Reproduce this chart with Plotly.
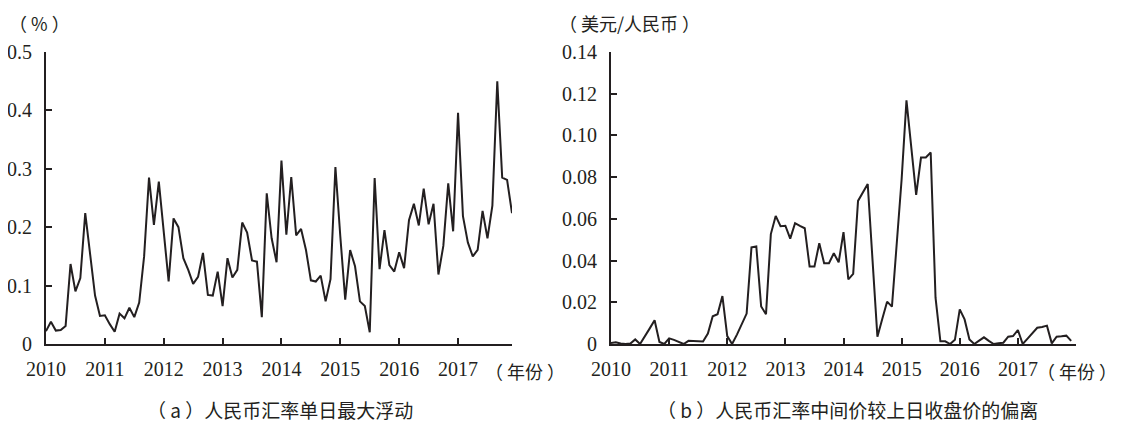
import plotly.graph_objects as go

# ---------------- data ----------------
years = [2010, 2011, 2012, 2013, 2014, 2015, 2016, 2017]
year_labels = ["2010", "2011", "2012", "2013", "2014", "2015", "2016", "2017"]

# (a) max single-day fluctuation of RMB exchange rate (%), monthly Jan-2010 .. Dec-2017
max_float = [
    0.022, 0.038, 0.023, 0.024, 0.031, 0.137, 0.090, 0.113, 0.224, 0.155, 0.083, 0.048,
    0.049, 0.034, 0.021, 0.052, 0.044, 0.062, 0.046, 0.071, 0.150, 0.285, 0.204, 0.278,
    0.195, 0.107, 0.215, 0.200, 0.147, 0.127, 0.103, 0.115, 0.156, 0.084, 0.083, 0.124,
    0.065, 0.147, 0.114, 0.127, 0.208, 0.191, 0.143, 0.141, 0.046, 0.258, 0.181, 0.140,
    0.314, 0.187, 0.286, 0.186, 0.197, 0.161, 0.109, 0.107, 0.117, 0.073, 0.111, 0.303,
    0.184, 0.076, 0.161, 0.133, 0.073, 0.065, 0.020, 0.284, 0.128, 0.195, 0.135, 0.124,
    0.157, 0.130, 0.212, 0.240, 0.203, 0.266, 0.205, 0.240, 0.119, 0.168, 0.275, 0.193,
    0.396, 0.219, 0.174, 0.150, 0.161, 0.228, 0.181, 0.237, 0.450, 0.285, 0.281, 0.224,
]

# (b) deviation of central parity from previous close (USD/RMB), monthly Jan-2010 .. Dec-2017
deviation = [
    0.0005, 0.0008, 0.0002, 0.0000, 0.0002, 0.0022, 0.0000, 0.0035, 0.0075, 0.0114, 0.0010, 0.0000,
    0.0027, 0.0020, 0.0008, 0.0000, 0.0015, 0.0014, 0.0013, 0.0012, 0.0050, 0.0133, 0.0143, 0.0230,
    0.0038, 0.0000, 0.0045, 0.0098, 0.0146, 0.0463, 0.0468, 0.0180, 0.0143, 0.0527, 0.0614, 0.0565,
    0.0567, 0.0505, 0.0579, 0.0566, 0.0555, 0.0371, 0.0371, 0.0483, 0.0387, 0.0387, 0.0435, 0.0392,
    0.0536, 0.0310, 0.0336, 0.0686, 0.0725, 0.0767, 0.0400, 0.0035, 0.0120, 0.0203, 0.0179, 0.0500,
    0.0790, 0.1168, 0.0940, 0.0715, 0.0894, 0.0894, 0.0918, 0.0222, 0.0013, 0.0013, 0.0000, 0.0020,
    0.0166, 0.0118, 0.0022, 0.0000, 0.0016, 0.0032, 0.0015, 0.0000, 0.0004, 0.0006, 0.0035, 0.0038,
    0.0067, 0.0000, 0.0026, 0.0052, 0.0078, 0.0082, 0.0088, 0.0003, 0.0035, 0.0037, 0.0040, 0.0015,
]

left_yticks = [0, 0.1, 0.2, 0.3, 0.4, 0.5]
left_ytext = ["0", "0.1", "0.2", "0.3", "0.4", "0.5"]
right_yticks = [0, 0.02, 0.04, 0.06, 0.08, 0.10, 0.12, 0.14]
right_ytext = ["0", "0.02", "0.04", "0.06", "0.08", "0.10", "0.12", "0.14"]

left_unit = "（ % ）"
right_unit = "（ 美元/人民币 ）"
year_unit = "（ 年份 ）"
caption_a = "（ a ）人民币汇率单日最大浮动"
caption_b = "（ b ）人民币汇率中间价较上日收盘价的偏离"

# monthly time positions (fractional years)
months = [y + m / 12 for y in years for m in range(12)]

# ---------------- figure ----------------
OFF = 8                      # page body margin of the browser
W, H = 1123 - OFF, 426 - OFF
INK = "#231f20"
FONT = "Liberation Serif, Noto Sans CJK SC, serif"

def px(x):
    return (x - OFF) / W

def py(y):
    return (H - (y - OFF)) / H

fig = go.Figure()
fig.add_trace(go.Scatter(x=months, y=max_float, mode="lines",
                         line=dict(color=INK, width=2), xaxis="x", yaxis="y",
                         showlegend=False, hoverinfo="skip"))
fig.add_trace(go.Scatter(x=months, y=deviation, mode="lines",
                         line=dict(color=INK, width=2), xaxis="x2", yaxis="y2",
                         showlegend=False, hoverinfo="skip"))

tick_font = dict(family=FONT, size=20, color=INK)
common_x = dict(showgrid=False, zeroline=False, showline=True, linecolor=INK, linewidth=2,
                ticks="inside", ticklen=6, tickwidth=1.8, tickcolor=INK, automargin=False,
                tickfont=tick_font, ticklabelstandoff=6)
common_y = dict(showgrid=False, zeroline=False, showline=True, linecolor=INK, linewidth=2,
                ticks="inside", ticklen=6, tickwidth=1.8, tickcolor=INK, automargin=False,
                tickfont=tick_font, ticklabelstandoff=8)

ydom = [py(344), py(52)]

fig.update_layout(
    width=W, height=H,
    margin=dict(l=0, r=0, t=0, b=0, autoexpand=False),
    paper_bgcolor="white", plot_bgcolor="white",
    xaxis=dict(domain=[px(46), px(512)], range=[2010, 2010 + 95 / 12],
               tickvals=years, ticktext=year_labels, anchor="y", **common_x),
    yaxis=dict(domain=ydom, range=[0, 0.5], tickvals=left_yticks, ticktext=left_ytext,
               anchor="x", **common_y),
    xaxis2=dict(domain=[px(611), px(1076)], range=[2010, 2018],
                tickvals=years + [2018], ticktext=year_labels + [""], anchor="y2", **common_x),
    yaxis2=dict(domain=ydom, range=[0, 0.14], tickvals=right_yticks, ticktext=right_ytext,
                anchor="x2", **common_y),
)

ann_font = dict(family="Noto Sans CJK SC, Liberation Serif, sans-serif", size=18, color=INK)
cap_font = dict(family="Noto Sans CJK SC, Liberation Serif, sans-serif", size=19, color=INK)
annotations = [
    dict(text=left_unit, x=px(8), y=py(OFF + 1), xanchor="left", yanchor="top", font=ann_font),
    dict(text=right_unit, x=px(558), y=py(OFF + 1), xanchor="left", yanchor="top", font=ann_font),
    dict(text=year_unit, x=px(484), y=py(371), xanchor="left", yanchor="middle", font=ann_font),
    dict(text=year_unit, x=px(1036), y=py(371), xanchor="left", yanchor="middle", font=ann_font),
    dict(text=caption_a, x=px(280), y=py(409), xanchor="center", yanchor="middle", font=cap_font),
    dict(text=caption_b, x=px(847), y=py(409), xanchor="center", yanchor="middle", font=cap_font),
]
for a in annotations:
    a.update(xref="paper", yref="paper", showarrow=False, borderpad=0)
fig.update_layout(annotations=annotations)

fig.write_html("out.html")
